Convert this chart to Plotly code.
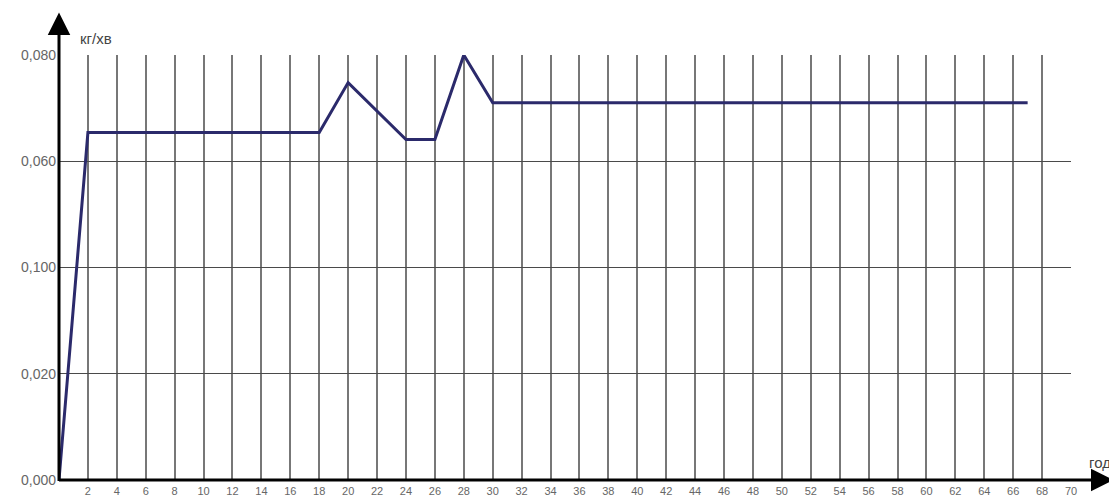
import plotly.graph_objects as go

# ------------------------------------------------------
# Data
# ------------------------------------------------------
hours = [0, 2, 18, 20, 24, 26, 28, 30, 67]
rate = [0.0, 0.0654, 0.0654, 0.0748, 0.0641, 0.0641, 0.0800, 0.0710, 0.0710]

x_ticks = list(range(2, 71, 2))
y_ticks = [0.0, 0.02, 0.04, 0.06, 0.08]
y_tick_text = ["0,000", "0,020", "0,100", "0,060", "0,080"]

fig = go.Figure()

fig.add_trace(
    go.Scatter(
        x=hours,
        y=rate,
        mode="lines",
        line=dict(color="#2b2a6b", width=3),
        cliponaxis=False,
        showlegend=False,
    )
)

# axis arrows (head at x/y, tail offset in pixels)
fig.add_annotation(
    x=0, y=1.1, xref="paper", yref="paper",
    ax=0, ay=470, axref="pixel", ayref="pixel",
    showarrow=True, arrowhead=2, arrowsize=1.5, arrowwidth=3,
    arrowcolor="#000000", text="", standoff=0, startstandoff=0,
)
fig.add_annotation(
    x=1.042, y=0, xref="paper", yref="paper",
    ax=-1056, ay=0, axref="pixel", ayref="pixel",
    showarrow=True, arrowhead=2, arrowsize=1.5, arrowwidth=3,
    arrowcolor="#000000", text="", standoff=0, startstandoff=0,
)

# axis titles
fig.add_annotation(
    x=0, y=1, xref="paper", yref="paper",
    xshift=19, yshift=17, xanchor="left", yanchor="middle",
    text="кг/хв", showarrow=False,
    font=dict(size=15, color="#444444"),
)
fig.add_annotation(
    x=1, y=0, xref="paper", yref="paper",
    xshift=16, yshift=18, xanchor="left", yanchor="middle",
    text="год", showarrow=False,
    font=dict(size=15, color="#444444"),
)

# page body adds an 8px margin, so the figure is 8px smaller
fig.update_layout(
    width=1109,
    height=489,
    margin=dict(l=51, r=46, t=47, b=17),
    paper_bgcolor="white",
    plot_bgcolor="white",
    font=dict(family="Liberation Sans, Arial, sans-serif", color="#666666"),
    xaxis=dict(
        range=[0, 70],
        tickvals=x_ticks,
        ticktext=[str(v) for v in x_ticks],
        tickfont=dict(size=11, color="#666666"),
        showgrid=True,
        gridcolor="#777777",
        gridwidth=1.5,
        zeroline=False,
        showline=False,
        ticks="",
        ticklabelstandoff=3,
        automargin=False,
    ),
    yaxis=dict(
        range=[0, 0.08],
        tickvals=y_ticks,
        ticktext=y_tick_text,
        tickfont=dict(size=14, color="#666666"),
        showgrid=True,
        gridcolor="#4a4a4a",
        gridwidth=1,
        zeroline=False,
        showline=False,
        ticks="",
        ticklabelstandoff=2,
        automargin=False,
    ),
)

fig.write_html("out.html")
